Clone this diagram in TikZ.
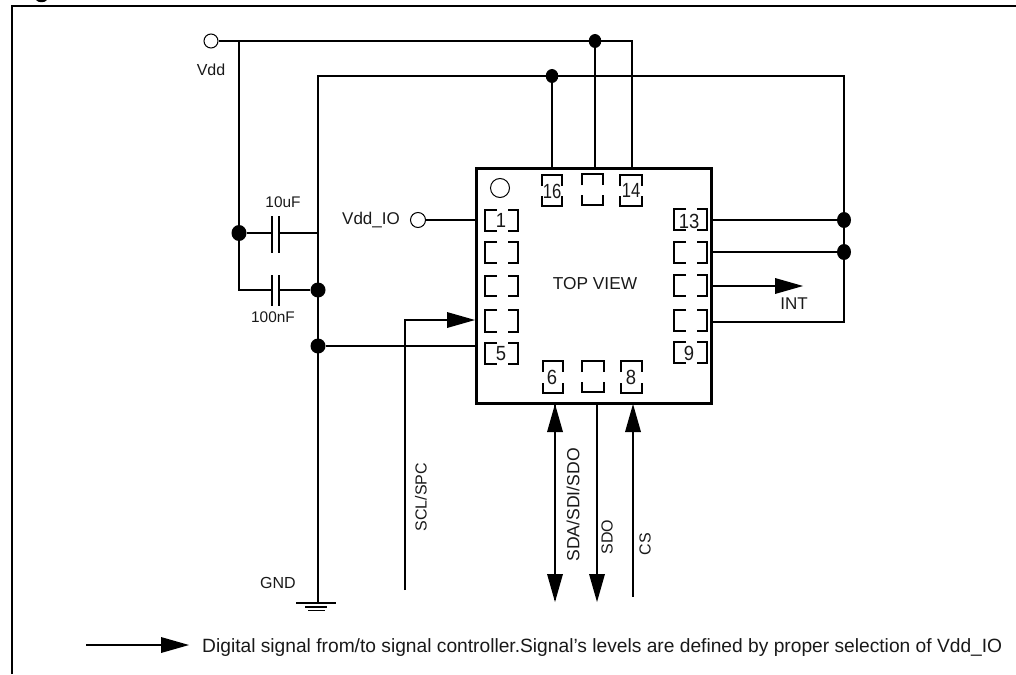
\documentclass[tikz,border=0pt]{standalone}
\usepackage{fontspec}
\setmainfont{Liberation Sans}
\usetikzlibrary{shapes.geometric}
\tikzset{
  wire/.style={draw=black,line width=2pt,line cap=butt,line join=miter},
  framel/.style={draw=black,line width=2pt},
  chipbox/.style={draw=black,line width=3pt,fill=none,minimum width=235pt,minimum height=235pt,inner sep=0pt},
  dotj/.style={ellipse,fill=black,inner sep=0pt,minimum width=12.5pt,minimum height=14pt},
  term/.style={circle,draw=black,line width=1pt,fill=white,inner sep=0pt,minimum size=14pt},
  lab/.style={font=\fontsize{16}{18}\selectfont,inner sep=0pt,text=black!90},
  pinlab/.style={font=\fontsize{20.5}{22}\selectfont,inner sep=0pt,text=black!90,xscale=0.9,transform shape},
  pinlabn/.style={pinlab,xscale=0.92},
  head/.style={fill=black},
  padl/.style={line width=2pt},
}
% horizontal-type pad: gaps in top and bottom sides
\newcommand{\padH}[4]{%
  \draw[padl] (#1+12,#3) -- (#1,#3) -- (#1,#4) -- (#1+12,#4);
  \draw[padl] (#2-10,#3) -- (#2,#3) -- (#2,#4) -- (#2-10,#4);}
% vertical-type pad: gaps in left and right sides
\newcommand{\padV}[4]{%
  \draw[padl] (#1,#3+11) -- (#1,#3) -- (#2,#3) -- (#2,#3+11);
  \draw[padl] (#1,#4-10) -- (#1,#4) -- (#2,#4) -- (#2,#4-10);}
\newcommand{\headR}[2]{\fill[head] (#1-28,#2-8) -- (#1,#2) -- (#1-28,#2+8) -- cycle;}
\begin{document}
\begin{tikzpicture}[x=1pt,y=-1pt]
\useasboundingbox (0,0) rectangle (1016,674);
% frame: left and top sides only, as far as the picture shows
\coordinate (fbl) at (12,674); \coordinate (ftl) at (12,6); \coordinate (ftr) at (1016,6);
\draw[framel] (fbl) -- (ftl) -- (ftr);
\fill[black] (36,0) .. controls (38,3) and (45,3) .. (47,0) -- cycle;
% chip
\node[chipbox] (chip) at (593.5,285.5) {};
\node[circle,draw=black,line width=1pt,inner sep=0,minimum size=19pt] (mark) at (500,188) {};
\node[lab,font=\fontsize{17.3}{19}\selectfont] (top) at (595,284) {TOP VIEW};
% pads
\padH{485}{518}{210}{231}\padH{485}{518}{242}{263}\padH{485}{518}{276}{296}\padH{485}{518}{310}{332}\padH{485}{518}{343}{364}
\padH{674}{707}{209}{230}\padH{674}{707}{242}{263}\padH{674}{707}{275}{296}\padH{674}{707}{310}{331}\padH{674}{707}{342}{363}
\padV{542}{562}{175}{206}\padV{582}{603}{174}{205}\padV{620}{642}{175}{206}
\padV{543}{563}{361}{393}\padV{582}{604}{361}{392}\padV{621}{642}{361}{393}
\node[pinlab] (p1) at (501,220) {1};
\node[pinlab] (p5) at (501,354) {5};
\node[pinlab] (p6) at (552,377) {6};
\node[pinlab] (p8) at (631,377) {8};
\node[pinlab] (p9) at (689,353) {9};
\node[pinlab] (p13) at (689,221) {13};
\node[pinlab,xscale=0.9] (p14) at (631,190.5) {14};
\node[pinlab,xscale=0.9] (p16) at (552,191) {16};
% terminals and junctions
\node[term] (vdd) at (211,41) {};
\node[term,minimum size=15pt] (vio) at (418,220) {};
\node[dotj] (j1) at (595,41) {};
\node[dotj] (j2) at (552,76) {};
\node[dotj,minimum width=15pt,minimum height=16pt] (j3) at (239,233) {};
\node[dotj,minimum width=15pt,minimum height=15pt] (j4) at (318,290) {};
\node[dotj,minimum width=15pt,minimum height=15pt] (j5) at (318,346) {};
\node[dotj,minimum width=14pt,minimum height=16pt] (j6) at (844,220) {};
\node[dotj,minimum width=14pt,minimum height=16pt] (j7) at (844,252) {};
% named points
\coordinate (c1a) at (272,233); \coordinate (c1b) at (279,233);
\coordinate (c2a) at (272,290); \coordinate (c2b) at (279,290);
\coordinate (gnd) at (318,603);
% wires
\draw[wire] (vdd) -- (632,41) -- (632,168);
\draw[wire] (j1) -- (595,168);
\draw[wire] (239,41) -- (j3) -- (239,290) -- (c2a);
\draw[wire] (j3) -- (c1a);
\draw[wire] (c1b) -- (318,233);
\draw[wire] (c2b) -- (j4);
\draw[wire] (gnd) -- (318,76) -- (844,76) -- (844,322) -- (711,322);
\draw[wire] (j2) -- (552,168);
\draw[wire] (711,220) -- (j6);
\draw[wire] (711,252) -- (j7);
\draw[wire] (711,286) -- (780,286);
\draw[wire] (j5) -- (476,346);
\draw[wire] (vio) -- (476,220);
\draw[wire] (405,590) -- (405,320) -- (450,320);
\draw[wire] (555,404) -- (555,600);
\draw[wire] (597,403) -- (597,590);
\draw[wire] (633,420) -- (633,597);
\draw[wire] (86,645) -- (165,645);
% capacitor plates
\draw[wire] (272,216) -- (272,253); \draw[wire] (279,216) -- (279,253);
\draw[wire] (272,275) -- (272,306); \draw[wire] (279,275) -- (279,306);
% ground
\draw[wire] (296,603) -- (336,603);
\draw[wire,line width=1.3pt] (305,607) -- (327,607);
\draw[wire,line width=1.3pt] (308,610.5) -- (325,610.5);
% arrowheads
\headR{475}{320}
\headR{803}{286}
\headR{189}{645}
\fill[head] (555,404) -- (563,432) -- (547,432) -- cycle;
\fill[head] (633,404) -- (641,432) -- (625,432) -- cycle;
\fill[head] (555,602) -- (563,574) -- (547,574) -- cycle;
\fill[head] (597,602) -- (605,574) -- (589,574) -- cycle;
% labels
\node[lab] (lvdd) at (211,70) {Vdd};
\node[lab,font=\fontsize{17}{19}\selectfont] (lvio) at (371,220) {Vdd\_IO};
\node[lab,font=\fontsize{15.4}{17}\selectfont] (l10) at (283,202) {10uF};
\node[lab,font=\fontsize{15.4}{17}\selectfont] (l100) at (273,317) {100nF};
\node[lab] (lgnd) at (278,583) {GND};
\node[lab,font=\fontsize{17}{19}\selectfont] (lint) at (794,304) {INT};
\node[lab,rotate=90] (lscl) at (421,497) {SCL/SPC};
\node[lab,rotate=90,font=\fontsize{17.6}{19}\selectfont] (lsda) at (573,505) {SDA/SDI/SDO};
\node[lab,rotate=90] (lsdo) at (607,537) {SDO};
\node[lab,rotate=90] (lcs) at (645,544) {CS};
\node[lab,anchor=west,font=\fontsize{19.2}{21}\selectfont] (leg) at (202,648) {Digital signal from/to signal controller.Signal’s levels are defined by proper selection of Vdd\_IO};
\end{tikzpicture}
\end{document}
